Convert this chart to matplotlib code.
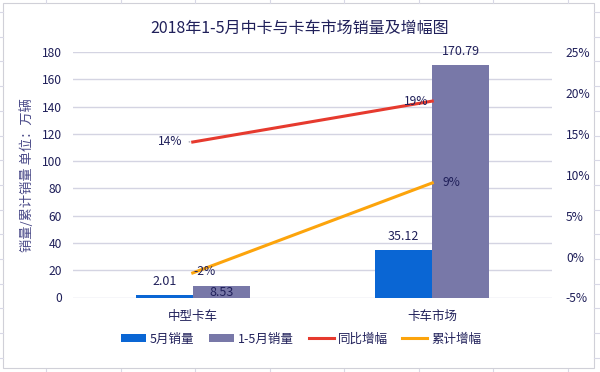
import matplotlib
matplotlib.use("Agg")
import matplotlib.pyplot as plt
from matplotlib.lines import Line2D
from matplotlib.patches import Rectangle
import numpy as np

plt.rcParams['font.family'] = ['Noto Sans CJK SC', 'DejaVu Sans']

title = "2018年1-5月中卡与卡车市场销量及增幅图"
categories = ["中型卡车", "卡车市场"]
may_sales = [2.01, 35.12]
ytd_sales = [8.53, 170.79]
yoy_growth = [0.14, 0.19]
cum_growth = [-0.02, 0.09]
series_names = ["5月销量", "1-5月销量", "同比增幅", "累计增幅"]
left_ticks = list(range(0, 181, 20))
right_ticks = [-0.05, 0.0, 0.05, 0.10, 0.15, 0.20, 0.25]
ylabel = "销量/累计销量 单位：万辆"

C_BLUE = "#0A66D4"
C_GRAY = "#7878A8"
C_RED = "#E63A2E"
C_ORANGE = "#FCA40C"
C_TEXT = "#20205A"
C_GRID = "#D4D4E2"

fig = plt.figure(figsize=(6, 3.72), dpi=100)
fig.patch.set_facecolor("white")

# spreadsheet background cells outside chart and chart border
for xv in np.arange(46, 600, 74.5):
    fig.add_artist(Line2D([xv / 600, xv / 600], [0, 3 / 372], color="#D8D8E6", lw=0.8))
    fig.add_artist(Line2D([xv / 600, xv / 600], [1 - 3 / 372, 1], color="#D8D8E6", lw=0.8))
for yv in np.arange(12, 372, 24.7):
    fig.add_artist(Line2D([594 / 600, 1], [1 - yv / 372, 1 - yv / 372], color="#D8D8E6", lw=0.8))
    fig.add_artist(Line2D([0, 3 / 600], [1 - yv / 372, 1 - yv / 372], color="#D8D8E6", lw=0.8))
fig.add_artist(Rectangle((3 / 600, 1 - 368 / 372), 591 / 600, 365 / 372,
                         transform=fig.transFigure, fill=False, edgecolor="#D0D0D8", lw=0.8))

ax = fig.add_axes([73 / 600, 1 - 297.5 / 372, 479 / 600, 245.5 / 372])
ax2 = ax.twinx()

x = np.arange(len(categories))
w = 0.2375
b1 = ax.bar(x - w / 2, may_sales, width=w, color=C_BLUE, zorder=2, label=series_names[0])
b2 = ax.bar(x + w / 2, ytd_sales, width=w, color=C_GRAY, zorder=2, label=series_names[1])

ax.set_xlim(-0.5, 1.5)
ax.set_ylim(0, 180)
ax.set_yticks(left_ticks)
ax.set_xticks(x)
ax.set_xticklabels(categories)
ax.grid(axis="y", color=C_GRID, lw=1.0, zorder=0)
ax.set_axisbelow(True)
for s in ax.spines.values():
    s.set_visible(False)
for s in ax2.spines.values():
    s.set_visible(False)
ax.tick_params(axis="both", length=0, labelsize=8.7, colors=C_TEXT)
ax.tick_params(axis="y", pad=8)
ax.tick_params(axis="x", pad=9, labelsize=9)

ax2.set_ylim(-0.05, 0.25)
ax2.set_yticks(right_ticks)
ax2.set_yticklabels([f"{int(round(t * 100))}%" for t in right_ticks])
ax2.tick_params(axis="y", length=0, labelsize=8.7, colors=C_TEXT, pad=10)

l1, = ax2.plot(x, yoy_growth, color=C_RED, lw=2.2, zorder=3, label=series_names[2])
l2, = ax2.plot(x, cum_growth, color=C_ORANGE, lw=2.2, zorder=3, label=series_names[3])

# bar labels
for xi, v in zip(x - w / 2, may_sales):
    ax.annotate(f"{v:.2f}", (xi, v), xytext=(0, 9.4), textcoords="offset points",
                ha="center", va="center", fontsize=9, color=C_TEXT)
for i, (xi, v) in enumerate(zip(x + w / 2, ytd_sales)):
    off = -4.8 if i == 0 else 9.4
    ax.annotate(f"{v:.2f}", (xi, v), xytext=(0, off), textcoords="offset points",
                ha="center", va="center", fontsize=9, color=C_TEXT, zorder=4)

# line labels
ax2.annotate(f"{yoy_growth[0]*100:.0f}%", (x[0], yoy_growth[0]), xytext=(-16.5, 0.5),
             textcoords="offset points", ha="center", va="center", fontsize=8.7, color=C_TEXT,
             arrowprops=dict(arrowstyle="-", color="#8C8C9C", lw=0.7, shrinkA=3, shrinkB=2))
ax2.annotate(f"{yoy_growth[1]*100:.0f}%", (x[1], yoy_growth[1]), xytext=(-11.5, 0),
             textcoords="offset points", ha="center", va="center", fontsize=8.7, color=C_TEXT, zorder=5)
ax2.annotate(f"{cum_growth[0]*100:.0f}%", (x[0], cum_growth[0]), xytext=(8.6, 1.4),
             textcoords="offset points", ha="center", va="center", fontsize=8.7, color=C_TEXT, zorder=5)
ax2.annotate(f"{cum_growth[1]*100:.0f}%", (x[1], cum_growth[1]), xytext=(13.7, 0),
             textcoords="offset points", ha="center", va="center", fontsize=8.7, color=C_TEXT, zorder=5)

fig.text(300 / 600, 1 - 28 / 372, title, ha="center", va="center", fontsize=11.5, color=C_TEXT)
fig.text(27 / 600, 1 - 175 / 372, ylabel, ha="center", va="center", rotation=90,
         fontsize=9.5, color="#4A4A88")

leg = fig.legend([b1, b2, l1, l2], series_names, ncol=4, loc="center",
                 bbox_to_anchor=(301 / 600, 1 - 339 / 372), frameon=False, fontsize=9,
                 handlelength=2.0, handleheight=0.6, columnspacing=1.2, handletextpad=0.3)
for t in leg.get_texts():
    t.set_color(C_TEXT)

fig.savefig("out.png", dpi=100, facecolor="white")
